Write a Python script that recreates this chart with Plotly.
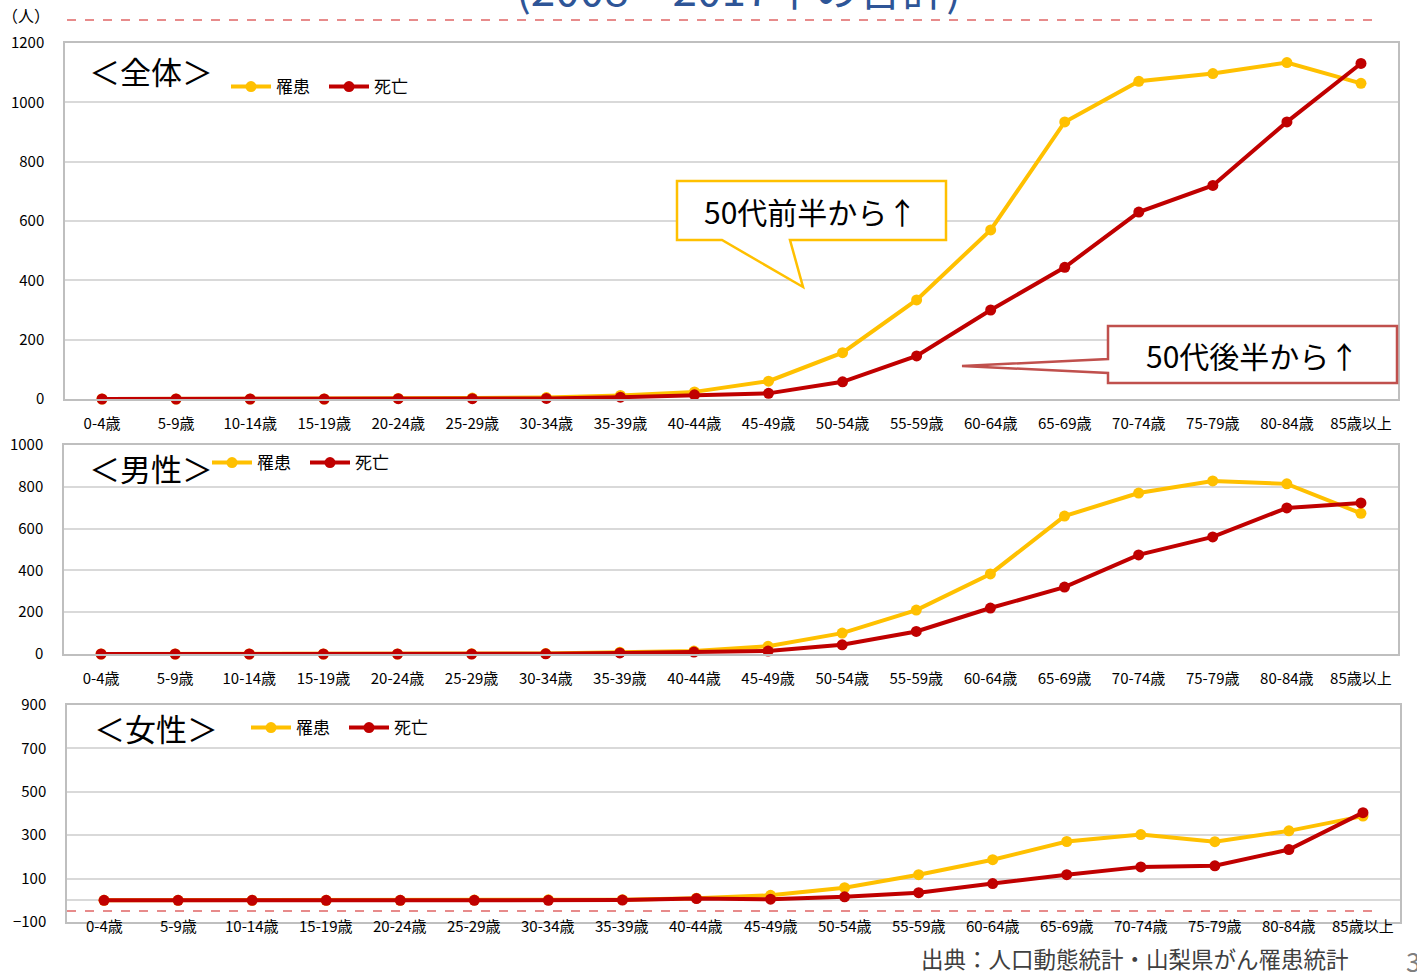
import plotly.graph_objects as go

W, H = 1417, 973

categories = ["0-4歳", "5-9歳", "10-14歳", "15-19歳", "20-24歳", "25-29歳", "30-34歳",
              "35-39歳", "40-44歳", "45-49歳", "50-54歳", "55-59歳", "60-64歳", "65-69歳",
              "70-74歳", "75-79歳", "80-84歳", "85歳以上"]

total_incidence = [0, 0, 0, 0, 2, 3, 5, 12, 24, 60, 156, 334, 570, 934, 1071, 1097, 1134, 1064]
total_death = [0, 0, 0, 0, 1, 1, 2, 6, 14, 19, 58, 145, 300, 444, 630, 720, 934, 1131]

male_incidence = [0, 0, 0, 0, 0, 1, 2, 8, 14, 37, 100, 210, 383, 660, 770, 828, 814, 673]
male_death = [0, 0, 0, 0, 0, 0, 1, 5, 9, 14, 44, 108, 220, 320, 474, 560, 699, 723]

female_incidence = [0, 0, 0, 0, 0, 1, 2, 3, 10, 23, 58, 118, 187, 271, 303, 270, 320, 388]
female_death = [0, 0, 0, 0, 0, 0, 0, 1, 8, 5, 16, 35, 77, 118, 154, 159, 234, 404]

series_names = ["罹患", "死亡"]
panel_titles = ["＜全体＞", "＜男性＞", "＜女性＞"]

YELLOW = "#FFC000"
RED = "#C00000"
GRID = "#D9D9D9"
BORDER = "#BFBFBF"
TICKFONT = dict(family="Liberation Sans Narrow, Noto Sans CJK JP", size=15, color="#000000")
JP = "Noto Sans CJK JP"


def px(x):
    return x / W


def py(y):
    return 1 - y / H


fig = go.Figure()

panels = [
    dict(inc=total_incidence, dea=total_death, xd=(65, 1398), yd=(43, 399),
         yr=[0, 1200], tv=[0, 200, 400, 600, 800, 1000, 1200], leg="legend"),
    dict(inc=male_incidence, dea=male_death, xd=(64, 1398), yd=(445, 654),
         yr=[0, 1000], tv=[0, 200, 400, 600, 800, 1000], leg="legend2"),
    dict(inc=female_incidence, dea=female_death, xd=(67, 1400), yd=(705, 922),
         yr=[-100, 900], tv=[-100, 100, 300, 500, 700, 900], leg="legend3"),
]

for i, p in enumerate(panels):
    n = "" if i == 0 else str(i + 1)
    for vals, name, col in [(p["inc"], series_names[0], YELLOW), (p["dea"], series_names[1], RED)]:
        fig.add_trace(go.Scatter(
            x=categories, y=vals, name=name, mode="lines+markers",
            line=dict(color=col, width=4), marker=dict(color=col, size=11),
            xaxis="x" + n, yaxis="y" + n, legend=p["leg"], cliponaxis=False,
        ))
    fig.layout["xaxis" + n] = dict(
        domain=[px(p["xd"][0]), px(p["xd"][1])], anchor="y" + n,
        type="category", categoryorder="array", categoryarray=categories,
        range=[-0.5, len(categories) - 0.5], showgrid=False, zeroline=False,
        showline=True, linecolor=BORDER, linewidth=1.5, mirror=True, automargin=False,
        ticks="", tickfont=TICKFONT, ticklabelstandoff=10, fixedrange=True,
        showticklabels=(i < 2),
    )
    fig.layout["yaxis" + n] = dict(
        domain=[py(p["yd"][1]), py(p["yd"][0])], anchor="x" + n,
        range=p["yr"], tickvals=p["tv"], showgrid=True, gridcolor=GRID, gridwidth=1.5,
        zeroline=(i == 2), zerolinecolor=GRID, zerolinewidth=1.5, automargin=False,
        showline=True, linecolor=BORDER, linewidth=1.5, mirror=True,
        ticks="", tickfont=TICKFONT, ticklabelstandoff=16, fixedrange=True,
    )

legend_pos = [(226, 87), (207, 463), (246, 728)]
for i, (lx, ly) in enumerate(legend_pos):
    key = "legend" if i == 0 else "legend%d" % (i + 1)
    fig.layout[key] = dict(
        x=px(lx), y=py(ly), xanchor="left", yanchor="middle", orientation="h",
        font=dict(family=JP, size=17, color="#000000"), bgcolor="rgba(0,0,0,0)",
        itemwidth=40, tracegroupgap=0, traceorder="normal",
        entrywidth=43, entrywidthmode="pixels",
    )


def ann(text, x, y, size, color="#000000", xa="center", ya="middle"):
    return dict(text=text, x=px(x), y=py(y), xref="paper", yref="paper", showarrow=False,
                xanchor=xa, yanchor=ya, font=dict(family=JP, size=size, color=color))


annotations = []

# tick labels of the bottom panel sit right under its frame (over the -100 line)
for c in categories:
    annotations.append(dict(text=c, x=c, xref="x3", y=py(925), yref="paper", showarrow=False,
                            xanchor="center", yanchor="middle", font=TICKFONT))

title_pos = [(151, 70), (151, 467), (156, 727)]
for t, (tx, ty) in zip(panel_titles, title_pos):
    annotations.append(ann(t, tx, ty, 31))

# callouts
shapes = []
yellow_path = [(677, 181), (946, 181), (946, 240), (790, 240), (803, 287), (722, 240), (677, 240)]
red_path = [(1108, 326), (1397, 326), (1397, 383), (1108, 383), (1108, 373), (962, 366), (1108, 359)]


def path_str(pts):
    return "M " + " L ".join("%f,%f" % (px(a), py(b)) for a, b in pts) + " Z"


shapes.append(dict(type="path", path=path_str(yellow_path), xref="paper", yref="paper",
                   line=dict(color=YELLOW, width=2.5), fillcolor="white", layer="above"))
shapes.append(dict(type="path", path=path_str(red_path), xref="paper", yref="paper",
                   line=dict(color="#C0504D", width=2.5), fillcolor="white", layer="above"))
annotations.append(ann("50代前半から↑", 810, 211, 30))
annotations.append(ann("50代後半から↑", 1252, 355, 30))

# decorative dashed lines
for yy in (20, 911):
    shapes.append(dict(type="line", xref="paper", yref="paper", x0=px(67), x1=px(1380),
                       y0=py(yy), y1=py(yy), line=dict(color="#E06666", width=1.5, dash="dash"),
                       layer="above"))

annotations.append(ann("（人）", 26, 15, 16))
annotations.append(ann("(2008～2017年の合計)", 738, -13, 44, "#2E5597"))
annotations.append(ann("出典：人口動態統計・山梨県がん罹患統計", 1135, 958, 22.5, "#404040"))
annotations.append(ann("3", 1413, 960, 26, "#7F7F7F"))

fig.update_layout(
    width=W, height=H, margin=dict(l=0, r=0, t=0, b=0, pad=0, autoexpand=False),
    paper_bgcolor="white", plot_bgcolor="white",
    annotations=annotations, shapes=shapes, showlegend=True,
)

fig.write_html("out.html", config={"displayModeBar": False},
               post_script="document.body.style.margin='0';document.body.style.padding='0';")
